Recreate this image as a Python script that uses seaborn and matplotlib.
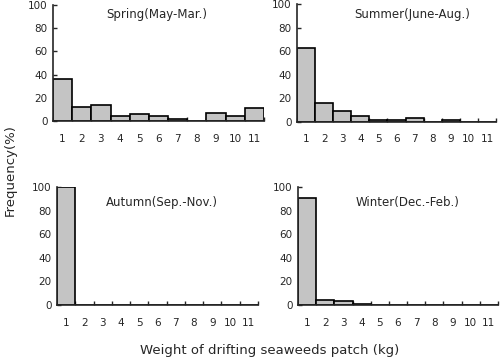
import matplotlib
matplotlib.use("Agg")
import matplotlib.pyplot as plt
import seaborn as sns
import pandas as pd
import numpy as np

sns.set_style("ticks")
plt.rcParams['font.family'] = ['DejaVu Sans']

weights = [str(i) for i in range(1, 12)]
spring = [36, 12, 14, 4, 6, 4, 2, 0, 7, 4, 11]
summer = [63, 16, 9, 5, 2, 2, 3, 0, 2, 0, 0]
autumn = [100, 0, 0, 0, 0, 0, 0, 0, 0, 0, 0]
winter = [91, 4, 3, 1, 0, 0, 0, 0, 0, 0, 0]
titles = ["Spring(May-Mar.)", "Summer(June-Aug.)", "Autumn(Sep.-Nov.)", "Winter(Dec.-Feb.)"]
yticks = [0, 20, 40, 60, 80, 100]

fig = plt.figure(figsize=(5.0, 3.61), dpi=100)
W, H = 500, 361
def ax_px(x0, x1, ytop, ybot):
    return fig.add_axes([x0 / W, 1 - ybot / H, (x1 - x0) / W, (ybot - ytop) / H])

axes = [ax_px(53, 264, 5, 121), ax_px(297, 496, 4, 122),
        ax_px(57, 258, 187, 305), ax_px(298, 498, 187, 305)]
series = [spring, summer, autumn, winter]
title_pos = [(0.49, 0.97), (0.58, 0.97), (0.52, 0.92), (0.55, 0.92)]

for ax, vals, t, tp in zip(axes, series, titles, title_pos):
    df = pd.DataFrame({"w": weights, "f": vals})
    sns.barplot(data=df, x="w", y="f", ax=ax, color="#c4c4c4", width=1.0,
                edgecolor="black", linewidth=1.2, saturation=1)
    ax.set_xlim(-0.5, 10.5)
    ax.set_ylim(0, 100)
    ax.set_yticks(yticks)
    ax.set_xlabel("")
    ax.set_ylabel("")
    ax.set_xticks(np.arange(-0.5, 11.0, 1.0), minor=True)
    ax.tick_params(axis='x', which='major', length=0, labelsize=7.5, pad=9)
    ax.tick_params(axis='x', which='minor', length=3, direction='in', width=1)
    ax.tick_params(axis='y', length=3, direction='in', labelsize=7.5, width=1, pad=4)
    for s in ['top', 'right']:
        ax.spines[s].set_visible(False)
    for s in ['left', 'bottom']:
        ax.spines[s].set_linewidth(1.2)
    ax.text(tp[0], tp[1], t, transform=ax.transAxes, ha='center', va='top', fontsize=8.5)

fig.text(0.02, 0.53, "Frequency(%)", rotation=90, ha='center', va='center', fontsize=9.5)
fig.text(0.54, 0.03, "Weight of drifting seaweeds patch (kg)", ha='center', va='center', fontsize=9.5)

fig.savefig("out.png", dpi=100)
